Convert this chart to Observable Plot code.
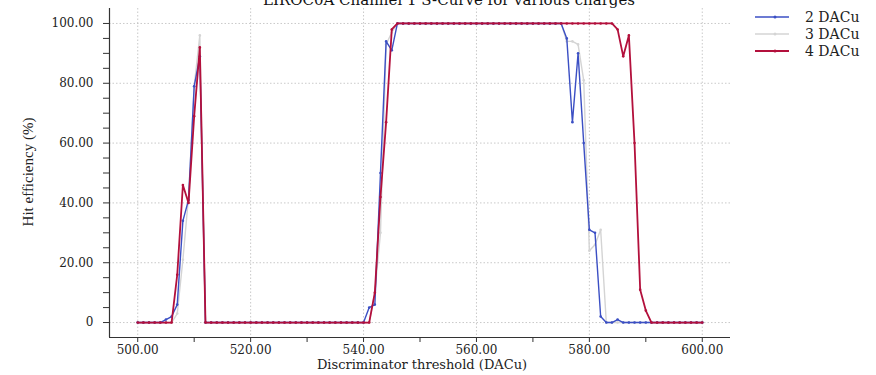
<!DOCTYPE html>
<html>
<head>
<meta charset="utf-8">
<script src="https://cdn.jsdelivr.net/npm/d3@7"></script>
<script src="https://cdn.jsdelivr.net/npm/@observablehq/plot@0.6"></script>
<style>
  body { margin: 0; background: #fff; }
  #wrap { position: relative; width: 876px; height: 375px; overflow: hidden; font-family: "DejaVu Serif", serif; color: #222; }
  #title { position: absolute; top: -9px; left: 449px; transform: translateX(-50%); white-space: nowrap; font-size: 15px; color: #111; }
  #xlabel { position: absolute; top: 357px; left: 422px; transform: translateX(-50%); white-space: nowrap; font-size: 13px; }
  #ylabel { position: absolute; left: 28px; top: 172px; transform: translate(-50%, -50%) rotate(-90deg); white-space: nowrap; font-size: 15px; font-family: "Liberation Serif", serif; color: #222; }
  #legend { position: absolute; left: 755px; top: 8px; font-size: 14px; }
  .lg { display: flex; align-items: center; height: 17px; }
  .lg svg { margin-right: 16px; }
  #chart { position: absolute; left: 0; top: 0; }
</style>
</head>
<body>
<div id="wrap">
  <div id="chart"></div>
  <div id="title">LIROC0A Channel 1 S-Curve for various charges</div>
  <div id="xlabel">Discriminator threshold (DACu)</div>
  <div id="ylabel">Hit efficiency (%)</div>
  <div id="legend"></div>
</div>
<script>
const thresholds = [
  500,501,502,503,504,505,506,507,508,509,
  510,511,512,513,514,515,516,517,518,519,
  520,521,522,523,524,525,526,527,528,529,
  530,531,532,533,534,535,536,537,538,539,
  540,541,542,543,544,545,546,547,548,549,
  550,551,552,553,554,555,556,557,558,559,
  560,561,562,563,564,565,566,567,568,569,
  570,571,572,573,574,575,576,577,578,579,
  580,581,582,583,584,585,586,587,588,589,
  590,591,592,593,594,595,596,597,598,599,
  600
];
// 2 DACu
const dac2 = [
  0,0,0,0,0,1,2,6,34,41,
  79,89,0,0,0,0,0,0,0,0,
  0,0,0,0,0,0,0,0,0,0,
  0,0,0,0,0,0,0,0,0,0,
  0,5,6,50,94,91,100,100,100,100,
  100,100,100,100,100,100,100,100,100,100,
  100,100,100,100,100,100,100,100,100,100,
  100,100,100,100,100,100,95,67,90,60,
  31,30,2,0,0,1,0,0,0,0,
  0,0,0,0,0,0,0,0,0,0,
  0
];
// 3 DACu
const dac3 = [
  0,0,0,0,0,0,0,3,21,42,
  79,96,0,0,0,0,0,0,0,0,
  0,0,0,0,0,0,0,0,0,0,
  0,0,0,0,0,0,0,0,0,0,
  0,0,10,30,93,97,100,100,100,100,
  100,100,100,100,100,100,100,100,100,100,
  100,100,100,100,100,100,100,100,100,100,
  100,100,100,100,100,100,94,94,93,81,
  24,26,31,0,0,0,0,0,0,0,
  0,0,0,0,0,0,0,0,0,0,
  0
];
// 4 DACu
const dac4 = [
  0,0,0,0,0,0,0,16,46,40,
  69,92,0,0,0,0,0,0,0,0,
  0,0,0,0,0,0,0,0,0,0,
  0,0,0,0,0,0,0,0,0,0,
  0,0,10,42,67,98,100,100,100,100,
  100,100,100,100,100,100,100,100,100,100,
  100,100,100,100,100,100,100,100,100,100,
  100,100,100,100,100,100,100,100,100,100,
  100,100,100,100,100,98,89,96,60,11,
  4,0,0,0,0,0,0,0,0,0,
  0
];
const seriesNames = ["2 DACu", "3 DACu", "4 DACu"];
const seriesColors = ["#3b4fc4", "#d4d4d4", "#b3103c"];
const seriesWidths = [1.4, 1.4, 1.8];
const xTicks = [500,510,520,530,540,550,560,570,580,590,600];
const xLabels = [500,520,540,560,580,600];
const yTicks = [0,5,10,15,20,25,30,35,40,45,50,55,60,65,70,75,80,85,90,95,100];
const yLabels = [0,20,40,60,80,100];

const seriesValues = [dac2, dac3, dac4];
const rows = [];
seriesValues.forEach((vals, i) => vals.forEach((v, j) => rows.push({x: thresholds[j], y: v, s: seriesNames[i]})));

const drawOrder = [1, 0, 2];
const seriesMarks = drawOrder.flatMap(i => {
  const d = rows.filter(r => r.s === seriesNames[i]);
  return [
    Plot.line(d, {x: "x", y: "y", stroke: seriesColors[i], strokeWidth: seriesWidths[i]}),
    Plot.dot(d, {x: "x", y: "y", r: 1.3, fill: seriesColors[i], stroke: "none"})
  ];
});

const chart = Plot.plot({
  width: 876,
  height: 375,
  marginLeft: 109,
  marginRight: 146,
  marginTop: 8,
  marginBottom: 38,
  x: {domain: [495, 605]},
  y: {domain: [-5, 105]},
  style: {fontFamily: "DejaVu Serif, serif", fontSize: "12px", color: "#222", background: "transparent"},
  marks: [
    Plot.gridX(xLabels, {stroke: "#bbb", strokeOpacity: 0.8, strokeDasharray: "1.5,2"}),
    Plot.gridY(yLabels, {stroke: "#bbb", strokeOpacity: 0.8, strokeDasharray: "1.5,2"}),
    Plot.axisX({ticks: xTicks, tickSize: 5, tickPadding: 3, stroke: "#333", fontSize: 12,
      tickFormat: d => xLabels.includes(d) ? d.toFixed(2) : "", label: null}),
    Plot.axisY({ticks: yTicks, tickSize: 6, tickPadding: 10, stroke: "#333", fontSize: 12,
      tickFormat: d => yLabels.includes(d) ? (d === 0 ? "0" : d.toFixed(2)) : "", label: null}),
    Plot.ruleY([-5], {stroke: "#333", strokeWidth: 1.2}),
    Plot.ruleX([495], {stroke: "#333", strokeWidth: 1.2}),
    ...seriesMarks
  ]
});
document.getElementById("chart").appendChild(chart);

const legend = document.getElementById("legend");
seriesNames.forEach((name, i) => {
  const row = document.createElement("div");
  row.className = "lg";
  row.innerHTML = `<svg width="34" height="10"><line x1="0" y1="5" x2="34" y2="5" stroke="${seriesColors[i]}" stroke-width="${seriesWidths[i]}"/><circle cx="20" cy="5" r="1.5" fill="${seriesColors[i]}"/></svg><span>${name}</span>`;
  legend.appendChild(row);
});
</script>
</body>
</html>
